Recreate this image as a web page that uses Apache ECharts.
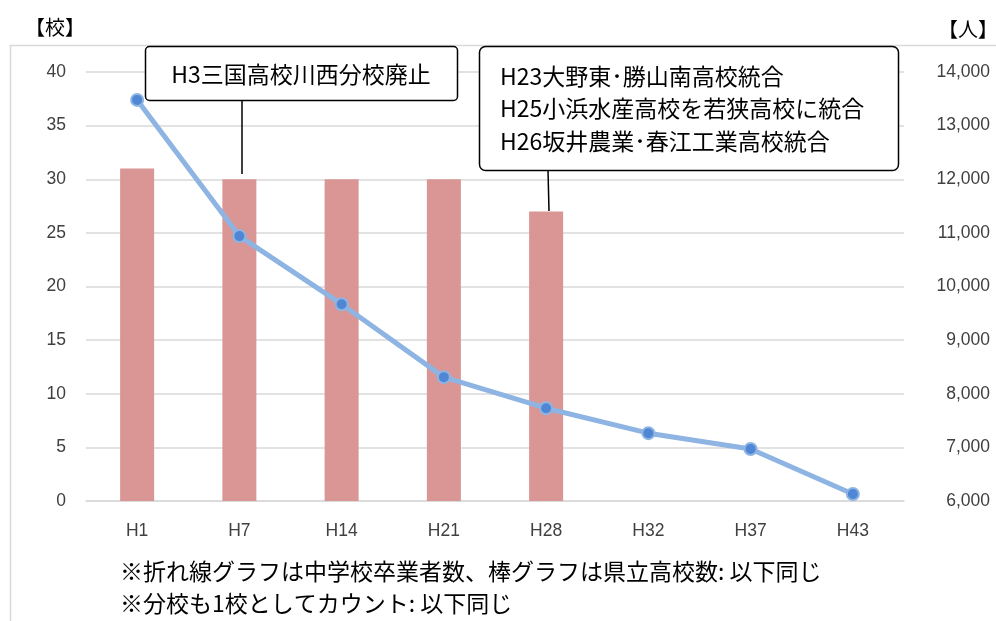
<!DOCTYPE html>
<html>
<head>
<meta charset="utf-8">
<script src="https://cdn.jsdelivr.net/npm/echarts@6/dist/echarts.min.js"></script>
<style>
	html, body { margin: 0; padding: 0; background: #fff; }
	#chart { width: 996px; height: 621px; }
</style>
</head>
<body>
<div id="chart"></div>
<script>
	// 年度（平成）
	const years = ['H1', 'H7', 'H14', 'H21', 'H28', 'H32', 'H37', 'H43']
	// 県立高校数（棒）
	const schools = [31, 30, 30, 30, 27, null, null, null]
	// 中学校卒業者数（折れ線）
	const graduates = [13480, 10940, 9670, 8310, 7730, 7265, 6970, 6130]
	// 注記
	const note1 = 'H3三国高校川西分校廃止'
	const note2 = ['H23大野東･勝山南高校統合', 'H25小浜水産高校を若狭高校に統合', 'H26坂井農業･春江工業高校統合']
	const footnotes = ['※折れ線グラフは中学校卒業者数、棒グラフは県立高校数: 以下同じ', '※分校も1校としてカウント: 以下同じ']

	const cjk = '"Noto Sans CJK JP", "Noto Sans", sans-serif'
	const latin = 'Arial, "Liberation Sans", "Noto Sans CJK JP", sans-serif'

	const myChart = echarts.init(document.getElementById('chart'))

	const option = {
		animation: false,
		textStyle: {
			fontFamily: latin
		},
		grid: {
			left: 86,
			right: 92,
			top: 72,
			bottom: 120
		},
		xAxis: [{
			type: 'category',
			data: years,
			axisTick: { show: false },
			axisLine: { lineStyle: { color: '#d9d9d9', width: 1.5 } },
			axisLabel: { color: '#404040', fontSize: 17.5, margin: 21 }
		}],
		yAxis: [{
			type: 'value',
			min: 0,
			max: 40,
			interval: 5,
			axisLine: { show: false },
			axisTick: { show: false },
			splitLine: { lineStyle: { color: '#d9d9d9', width: 1.5 } },
			axisLabel: { color: '#404040', fontSize: 17.5, margin: 20 }
		}, {
			type: 'value',
			min: 6000,
			max: 14000,
			interval: 1000,
			axisLine: { show: false },
			axisTick: { show: false },
			splitLine: { show: false },
			axisLabel: {
				color: '#404040',
				fontSize: 17.5,
				align: 'right',
				margin: 86,
				formatter: v => v.toLocaleString('en-US')
			}
		}],
		series: [{
			name: '県立高校数',
			type: 'bar',
			data: schools,
			barWidth: 34,
			itemStyle: { color: '#d99694' },
			z: 2
		}, {
			name: '中学校卒業者数',
			type: 'line',
			yAxisIndex: 1,
			data: graduates,
			symbol: 'circle',
			symbolSize: 12,
			lineStyle: { color: '#8db4e2', width: 5 },
			itemStyle: { color: '#4f87d4', borderColor: '#8db4e2', borderWidth: 2 },
			z: 3
		}],
		graphic: [
			// 外枠
			{
				type: 'rect', z: 0, silent: true,
				shape: { x: 10.5, y: 45.5, width: 1000, height: 600 },
				style: { fill: 'none', stroke: '#d9d9d9', lineWidth: 1.5 }
			},
			{
				type: 'text', left: 25, top: 17,
				style: { text: '【校】', font: '20px ' + cjk, fill: '#000' }
			},
			{
				type: 'text', left: 938, top: 19,
				style: { text: '【人】', font: '20px ' + cjk, fill: '#000' }
			},
			// 注記1
			{
				type: 'line', z: 100,
				shape: { x1: 242, y1: 100, x2: 242, y2: 174 },
				style: { stroke: '#000', lineWidth: 1.5 }
			},
			{
				type: 'rect', z: 100,
				shape: { x: 145.5, y: 46.5, width: 312, height: 54, r: 4 },
				style: { fill: '#fff', stroke: '#000', lineWidth: 1.5 }
			},
			{
				type: 'text', z: 101, x: 301, y: 74,
				style: { text: note1, font: '23px ' + cjk, fill: '#000', textAlign: 'center', textVerticalAlign: 'middle' }
			},
			// 注記2
			{
				type: 'line', z: 100,
				shape: { x1: 548, y1: 170, x2: 549, y2: 211 },
				style: { stroke: '#000', lineWidth: 1.5 }
			},
			{
				type: 'rect', z: 100,
				shape: { x: 479.5, y: 46.5, width: 419, height: 124, r: 6 },
				style: { fill: '#fff', stroke: '#000', lineWidth: 1.5 }
			},
			...note2.map((t, i) => ({
				type: 'text', z: 101, x: 500, y: 76 + i * 32.5,
				style: { text: t, font: '23px ' + cjk, fill: '#000', textVerticalAlign: 'middle' }
			})),
			// 脚注
			...footnotes.map((t, i) => ({
				type: 'text', x: 120, y: 571 + i * 32,
				style: { text: t, font: '23px ' + cjk, fill: '#000', textVerticalAlign: 'middle' }
			}))
		]
	}

	myChart.setOption(option)
</script>
</body>
</html>
